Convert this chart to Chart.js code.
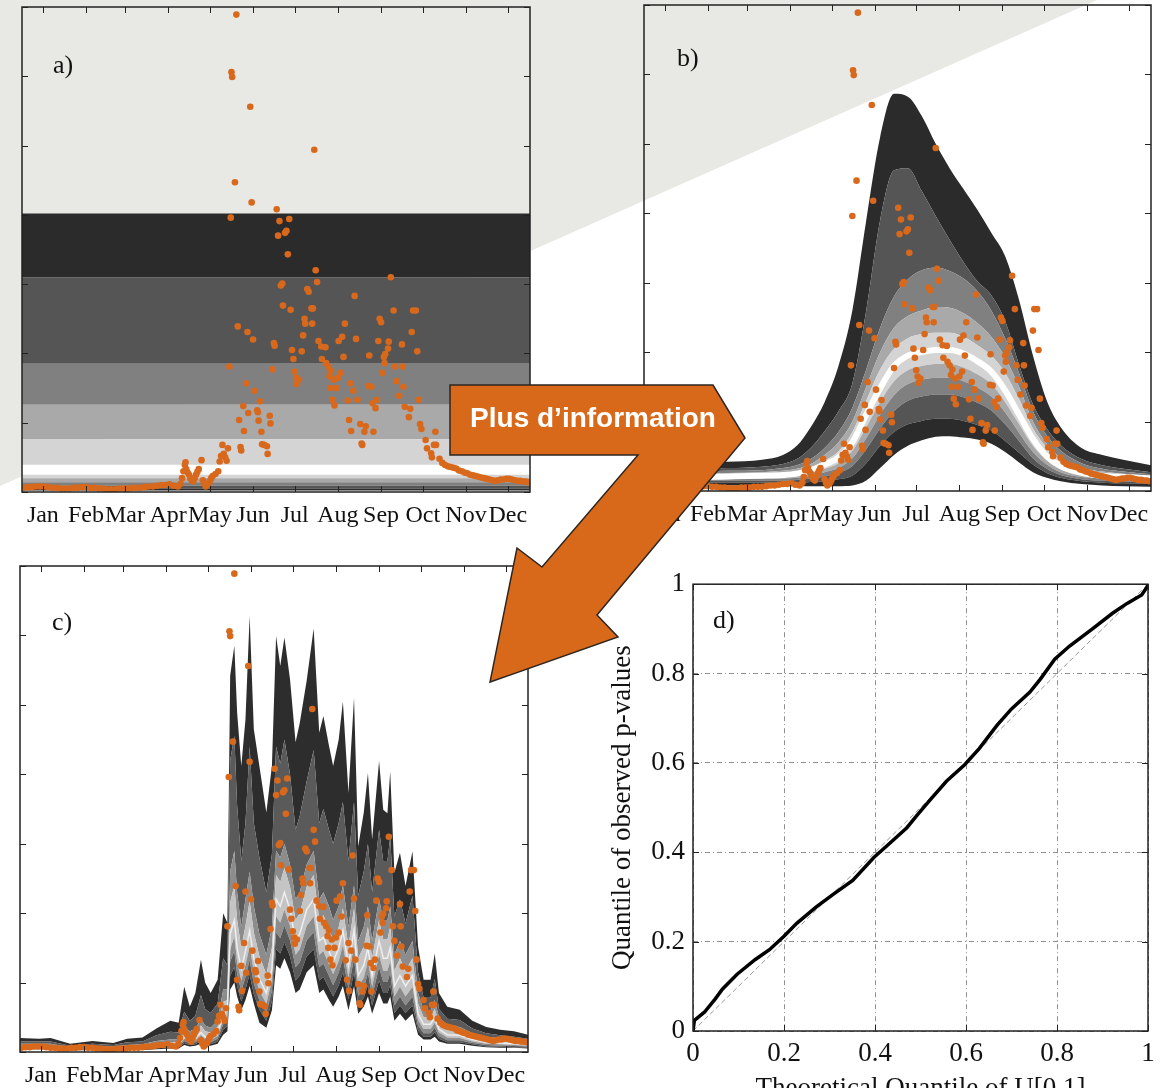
<!DOCTYPE html>
<html>
<head>
<meta charset="utf-8">
<script src="https://cdn.jsdelivr.net/npm/chart.js@4.4.0/dist/chart.umd.min.js"></script>
<style>
  html, body { margin: 0; padding: 0; width: 1167px; height: 1088px; overflow: hidden; background: #fff; }
  #bg { position: absolute; left: 0; top: 0; width: 1167px; height: 1088px; background: #e8e9e4;
        clip-path: polygon(0 0, 1097px 0, 0 486px); }
  canvas { position: absolute; }
  #overlay { position: absolute; left: 0; top: 0; }
  .lbl { font-family: 'Liberation Serif', 'Times New Roman', serif; font-size: 26px; fill: #111; }
  .arrowText { font-family: 'Liberation Sans', Arial, sans-serif; font-weight: bold; font-size: 28px; fill: #fff; }
</style>
</head>
<body>
<div id="bg"></div>
<canvas id="chartA" width="545" height="540" style="left:0;top:0"></canvas>
<canvas id="chartB" width="567" height="540" style="left:600px;top:0"></canvas>
<canvas id="chartC" width="545" height="543" style="left:0;top:545px"></canvas>
<canvas id="chartD" width="567" height="560" style="left:600px;top:560px"></canvas>
<svg id="overlay" width="1167" height="1088">
  <text class="lbl" x="53" y="73">a)</text>
  <text class="lbl" x="677" y="66">b)</text>
  <text class="lbl" x="52" y="630">c)</text>
  <text class="lbl" x="713" y="628">d)</text>
  <polygon points="450,385 713,385 745,438 597,615 618,637 490,682 517,548 542,567 638,455 450,455"
           fill="#d9691a" stroke="#2e2620" stroke-width="1.5" stroke-linejoin="miter"/>
  <text class="arrowText" x="593" y="427" text-anchor="middle">Plus d’information</text>
</svg>
<script>
// month axis
const monthTicks = [15, 46, 74, 105, 135, 166, 196, 227, 258, 288, 319, 349];
const monthLabels = ['Jan', 'Feb', 'Mar', 'Apr', 'May', 'Jun', 'Jul', 'Aug', 'Sep', 'Oct', 'Nov', 'Dec'];

// observed daily values (day of year, value)
const obsDay = [
  1, 4, 7, 10, 13, 16, 19, 22, 25, 28, 31, 34, 37, 40, 43, 46, 49, 52, 55, 58,
  61, 64, 67, 70, 73, 76, 79, 82, 85, 88, 91, 94, 97, 100, 103, 106, 109, 112,
  114, 115, 116, 117, 117.5, 118, 119, 120, 121, 122, 123, 124, 125, 126, 127, 129, 130,
  131, 132, 133, 134, 135, 136, 137, 139, 141, 142, 143, 144, 145, 146, 147, 148,
  149, 150, 150.5, 151, 153, 154, 155, 156, 157, 157.5, 159, 159.5, 161, 162, 162.5, 164, 165,
  166, 167, 169, 169.5, 170, 171, 172, 172.5, 174, 176, 176.5, 178, 178.5, 180, 181, 181.5,
  183, 184, 185, 186, 187, 187.5, 189, 190, 191, 192, 193, 194, 195, 196, 197, 197.5, 199,
  201, 202, 203, 203.5, 205, 206, 208, 208.5, 209, 210, 211, 212, 213, 215, 215.5, 218, 218.5,
  220, 221, 221.5, 222, 223, 224, 224.5, 226, 227, 227.5, 229, 230, 231, 232, 234, 235, 236,
  236.5, 238, 239, 240, 241, 243, 244, 244.5, 246, 247, 249, 249.5, 251, 252, 252.5, 254,
  255, 256, 257, 258, 259, 260, 260.5, 261, 263, 263.5, 265, 267, 268, 269, 271, 273, 273.5,
  274, 275, 278, 279, 280, 281, 283, 284, 285, 286, 287, 290, 291, 294, 294.5, 296, 297, 297.5,
  300, 302, 304, 306, 308, 310, 312, 314, 316, 318, 320, 322, 324, 326, 328, 330, 332, 334,
  336, 338, 340, 342, 344, 346, 348, 350, 352, 354, 356, 358, 360, 362, 364
];
const obsVal = [
  0.06, 0.07, 0.07, 0.08, 0.08, 0.08, 0.07, 0.06, 0.06, 0.05, 0.05, 0.05, 0.06, 0.06, 0.07, 0.07, 0.06, 0.06, 0.05, 0.05,
  0.04, 0.04, 0.04, 0.05, 0.05, 0.05, 0.06, 0.06, 0.06, 0.07, 0.08, 0.08, 0.09, 0.10, 0.10, 0.11, 0.09, 0.08,
  0.12, 0.20, 0.30, 0.39, 0.43, 0.33, 0.28, 0.25, 0.20, 0.17, 0.15, 0.20, 0.25, 0.29, 0.33, 0.46, 0.17,
  0.12, 0.08, 0.10, 0.12, 0.16, 0.20, 0.23, 0.26, 0.30, 0.44, 0.52, 0.68, 0.55, 0.50, 0.45, 0.63,
  1.81, 3.96, 6.06, 5.99, 4.47, 6.89, 2.39, 1.04, 0.65, 0.60, 1.24, 0.88, 1.57, 2.31, 1.14, 5.56, 4.18,
  2.20, 1.46, 1.18, 1.15, 1.03, 1.31, 0.87, 0.69, 0.68, 0.66, 0.55, 1.10, 0.99, 1.77, 2.15, 2.11,
  4.08, 3.70, 3.91, 2.98, 3.01, 2.69, 3.74, 3.77, 3.43, 3.94, 2.63, 2.05, 1.92, 1.74, 1.65, 1.56, 1.62,
  2.03, 2.26, 2.50, 2.43, 2.93, 2.89, 2.65, 2.43, 2.65, 4.94, 3.20, 3.03, 2.18, 2.10, 1.92, 2.09, 1.86,
  1.81, 1.67, 1.50, 1.75, 1.33, 1.62, 1.25, 1.50, 1.65, 2.18, 1.72, 2.24, 1.95, 2.43, 1.32, 1.04, 1.57,
  0.88, 1.46, 2.83, 2.21, 1.33, 0.98, 0.70, 0.68, 0.87, 0.95, 1.53, 1.97, 1.52, 1.28, 0.87, 1.21,
  1.33, 2.18, 2.50, 2.45, 1.72, 1.95, 1.86, 1.99, 2.07, 2.17, 3.10, 2.62, 1.81, 1.60, 1.39, 2.13, 1.81,
  1.52, 1.23, 1.08, 1.20, 2.31, 2.62, 2.62, 2.03, 1.33, 0.98, 0.91, 0.75, 0.63, 0.56, 0.50, 0.68, 0.87, 0.68,
  0.48, 0.42, 0.39, 0.37, 0.36, 0.35, 0.34, 0.31, 0.30, 0.28, 0.27, 0.25, 0.24, 0.23, 0.22, 0.21, 0.20, 0.19,
  0.18, 0.17, 0.16, 0.17, 0.18, 0.18, 0.19, 0.19, 0.18, 0.17, 0.16, 0.16, 0.15, 0.15, 0.14
];

// a) climatological quantile levels, bottom to top (constant over the year)
const dayA = [0, 365];
const levelsA = [0.02, 0.05, 0.09, 0.14, 0.20, 0.32, 0.76, 1.26, 1.85, 3.10, 4.02];

// b) seasonal quantile curves
const dayB = [0, 30, 60, 85, 100, 110, 120, 130, 140, 150, 160, 170, 180, 190, 200, 210, 220, 230, 240, 250, 260, 270, 280, 290, 300, 315, 330, 345, 365];
const bL1 = [0.08, 0.08, 0.08, 0.08, 0.08, 0.07, 0.07, 0.07, 0.07, 0.08, 0.15, 0.33, 0.52, 0.65, 0.73, 0.78, 0.79, 0.77, 0.74, 0.68, 0.56, 0.41, 0.27, 0.19, 0.14, 0.10, 0.08, 0.07, 0.06];
const bL2 = [0.12, 0.12, 0.12, 0.12, 0.12, 0.12, 0.13, 0.14, 0.17, 0.22, 0.40, 0.65, 0.85, 0.96, 1.01, 1.04, 1.04, 1.01, 0.95, 0.87, 0.72, 0.55, 0.38, 0.26, 0.19, 0.14, 0.12, 0.11, 0.10];
const bL3 = [0.14, 0.14, 0.15, 0.15, 0.15, 0.16, 0.18, 0.21, 0.26, 0.36, 0.60, 0.90, 1.15, 1.30, 1.36, 1.39, 1.39, 1.35, 1.27, 1.16, 0.96, 0.72, 0.47, 0.32, 0.23, 0.17, 0.15, 0.14, 0.12];
const bL4 = [0.16, 0.16, 0.17, 0.18, 0.18, 0.19, 0.22, 0.27, 0.33, 0.47, 0.76, 1.10, 1.38, 1.54, 1.60, 1.63, 1.63, 1.58, 1.49, 1.36, 1.13, 0.84, 0.56, 0.38, 0.27, 0.20, 0.18, 0.16, 0.14];
const bL5 = [0.18, 0.18, 0.19, 0.20, 0.21, 0.22, 0.26, 0.32, 0.40, 0.58, 0.92, 1.28, 1.58, 1.74, 1.80, 1.83, 1.83, 1.78, 1.68, 1.54, 1.28, 0.96, 0.65, 0.44, 0.31, 0.23, 0.20, 0.18, 0.16];
const bMed = [0.20, 0.20, 0.21, 0.22, 0.23, 0.25, 0.30, 0.38, 0.48, 0.70, 1.10, 1.48, 1.80, 1.95, 2.00, 2.03, 2.03, 1.98, 1.87, 1.72, 1.45, 1.10, 0.75, 0.50, 0.36, 0.26, 0.22, 0.20, 0.18];
const bU5 = [0.22, 0.22, 0.23, 0.24, 0.26, 0.28, 0.34, 0.44, 0.57, 0.85, 1.30, 1.75, 2.05, 2.20, 2.26, 2.28, 2.28, 2.22, 2.10, 1.95, 1.70, 1.32, 0.90, 0.62, 0.44, 0.30, 0.25, 0.22, 0.20];
const bU4 = [0.25, 0.25, 0.26, 0.27, 0.29, 0.32, 0.39, 0.52, 0.70, 1.00, 1.50, 2.00, 2.35, 2.52, 2.60, 2.65, 2.64, 2.56, 2.42, 2.22, 1.92, 1.50, 1.00, 0.68, 0.48, 0.34, 0.28, 0.25, 0.22];
const bU3 = [0.28, 0.28, 0.29, 0.30, 0.33, 0.37, 0.46, 0.62, 0.85, 1.20, 1.75, 2.35, 2.80, 3.05, 3.18, 3.22, 3.17, 3.06, 2.88, 2.60, 2.20, 1.70, 1.15, 0.80, 0.58, 0.40, 0.32, 0.28, 0.24];
const bU2 = [0.32, 0.32, 0.33, 0.35, 0.39, 0.46, 0.62, 0.86, 1.15, 1.55, 2.60, 3.90, 4.62, 4.65, 4.32, 3.96, 3.62, 3.30, 3.02, 2.82, 2.45, 1.82, 1.25, 0.90, 0.66, 0.46, 0.37, 0.32, 0.27];
const bU1 = [0.40, 0.40, 0.42, 0.45, 0.52, 0.65, 0.92, 1.28, 1.80, 2.60, 3.90, 5.10, 5.72, 5.68, 5.40, 5.00, 4.65, 4.35, 4.05, 3.72, 3.38, 2.75, 1.95, 1.30, 0.92, 0.62, 0.52, 0.45, 0.37];

// c) daily quantile curves
const dayC = [0, 14, 22, 36, 52, 67, 77, 88, 98, 108, 114, 118, 122, 126, 130, 133, 137, 142, 146, 149,
  151, 154, 156, 159, 162, 165, 168, 172, 177, 181, 184, 187, 190, 194, 198, 201, 206, 211, 215, 218,
  222, 225, 229, 232, 236, 240, 243, 247, 250, 253, 258, 261, 264, 266, 269, 273, 277, 282, 286, 290,
  295, 298, 301, 307, 316, 325, 335, 345, 355, 365];
const cL1 = [0.04, 0.04, 0.04, 0.02, 0.03, 0.02, 0.03, 0.03, 0.04, 0.05, 0.05, 0.10, 0.08, 0.09, 0.12, 0.10, 0.09, 0.12, 0.25, 0.30,
  0.90, 1.00, 0.80, 0.60, 0.75, 0.95, 0.70, 0.42, 0.35, 0.60, 1.25, 1.20, 1.35, 1.15, 0.85, 0.90, 1.15, 1.25, 0.85, 0.90,
  0.75, 0.65, 0.80, 0.95, 0.60, 0.95, 0.55, 0.65, 0.80, 0.55, 0.85, 0.70, 0.70, 0.80, 0.45, 0.55, 0.45, 0.55, 0.25, 0.18,
  0.18, 0.22, 0.15, 0.12, 0.12, 0.09, 0.07, 0.06, 0.06, 0.05];
const cL2 = [0.055, 0.055, 0.055, 0.03, 0.04, 0.03, 0.04, 0.04, 0.055, 0.065, 0.065, 0.13, 0.10, 0.11, 0.16, 0.13, 0.11, 0.15, 0.32, 0.37,
  1.10, 1.22, 0.95, 0.73, 0.90, 1.12, 0.83, 0.61, 0.45, 0.73, 1.48, 1.42, 1.58, 1.38, 1.03, 1.10, 1.38, 1.48, 1.03, 1.08,
  0.92, 0.80, 0.96, 1.15, 0.76, 1.15, 0.67, 0.78, 0.96, 0.67, 1.03, 0.85, 0.85, 0.96, 0.56, 0.67, 0.56, 0.67, 0.31, 0.22,
  0.22, 0.28, 0.19, 0.14, 0.14, 0.11, 0.08, 0.075, 0.07, 0.065];
const cL3 = [0.07, 0.07, 0.07, 0.04, 0.05, 0.04, 0.05, 0.05, 0.07, 0.08, 0.08, 0.16, 0.13, 0.14, 0.20, 0.16, 0.14, 0.19, 0.40, 0.45,
  1.30, 1.45, 1.12, 0.88, 1.08, 1.32, 0.99, 0.74, 0.57, 0.88, 1.72, 1.64, 1.82, 1.61, 1.22, 1.29, 1.61, 1.72, 1.22, 1.27,
  1.10, 0.96, 1.14, 1.35, 0.92, 1.35, 0.80, 0.92, 1.14, 0.80, 1.22, 1.01, 1.01, 1.14, 0.67, 0.80, 0.67, 0.80, 0.38, 0.27,
  0.27, 0.35, 0.23, 0.17, 0.17, 0.13, 0.10, 0.09, 0.085, 0.08];
const cL4 = [0.08, 0.08, 0.08, 0.045, 0.055, 0.045, 0.06, 0.06, 0.08, 0.09, 0.09, 0.19, 0.15, 0.17, 0.24, 0.19, 0.17, 0.23, 0.47, 0.52,
  1.48, 1.66, 1.30, 1.03, 1.25, 1.52, 1.16, 0.88, 0.70, 1.03, 1.95, 1.86, 2.05, 1.82, 1.40, 1.48, 1.82, 1.95, 1.40, 1.45,
  1.26, 1.12, 1.31, 1.54, 1.07, 1.54, 0.94, 1.07, 1.31, 0.94, 1.40, 1.17, 1.17, 1.31, 0.80, 0.94, 0.80, 0.94, 0.46, 0.33,
  0.33, 0.42, 0.28, 0.21, 0.20, 0.15, 0.12, 0.11, 0.10, 0.09];
const cMed = [0.09, 0.09, 0.09, 0.05, 0.06, 0.05, 0.07, 0.07, 0.09, 0.10, 0.10, 0.22, 0.18, 0.20, 0.28, 0.22, 0.20, 0.27, 0.55, 0.60,
  1.70, 1.90, 1.50, 1.20, 1.45, 1.75, 1.35, 1.05, 0.85, 1.20, 2.20, 2.10, 2.30, 2.05, 1.60, 1.70, 2.05, 2.20, 1.60, 1.65,
  1.45, 1.30, 1.50, 1.75, 1.25, 1.75, 1.10, 1.25, 1.50, 1.10, 1.60, 1.35, 1.35, 1.50, 0.95, 1.10, 0.95, 1.10, 0.55, 0.40,
  0.40, 0.50, 0.33, 0.25, 0.24, 0.18, 0.14, 0.13, 0.12, 0.11];
const cU4 = [0.10, 0.10, 0.10, 0.06, 0.07, 0.06, 0.08, 0.09, 0.12, 0.14, 0.14, 0.29, 0.24, 0.26, 0.38, 0.30, 0.28, 0.36, 0.72, 0.75,
  2.15, 2.40, 1.90, 1.50, 1.82, 2.17, 1.72, 1.38, 1.12, 1.50, 2.55, 2.45, 2.65, 2.38, 1.90, 2.00, 2.38, 2.55, 1.90, 1.97,
  1.78, 1.60, 1.80, 2.07, 1.52, 2.07, 1.35, 1.52, 1.80, 1.35, 1.90, 1.62, 1.62, 1.80, 1.17, 1.35, 1.17, 1.35, 0.70, 0.50,
  0.50, 0.62, 0.42, 0.31, 0.30, 0.22, 0.18, 0.16, 0.15, 0.13];
const cU3 = [0.12, 0.12, 0.12, 0.07, 0.09, 0.08, 0.10, 0.11, 0.16, 0.18, 0.18, 0.36, 0.30, 0.33, 0.48, 0.38, 0.35, 0.45, 0.90, 0.90,
  2.60, 2.90, 2.30, 1.80, 2.20, 2.60, 2.10, 1.70, 1.40, 1.80, 2.90, 2.80, 3.00, 2.70, 2.20, 2.30, 2.70, 2.90, 2.20, 2.30,
  2.10, 1.90, 2.10, 2.40, 1.80, 2.40, 1.60, 1.80, 2.10, 1.60, 2.20, 1.90, 1.90, 2.10, 1.40, 1.60, 1.40, 1.60, 0.85, 0.60,
  0.60, 0.75, 0.50, 0.38, 0.36, 0.27, 0.22, 0.20, 0.18, 0.16];
const cU2 = [0.15, 0.15, 0.15, 0.09, 0.12, 0.10, 0.14, 0.15, 0.24, 0.29, 0.28, 0.58, 0.45, 0.52, 0.82, 0.62, 0.56, 0.70, 1.35, 1.25,
  4.20, 4.55, 3.55, 2.75, 3.30, 4.40, 3.30, 2.80, 2.30, 2.85, 4.40, 4.15, 4.50, 4.00, 3.20, 3.40, 3.90, 4.35, 3.30, 3.50,
  3.20, 3.00, 3.30, 3.60, 2.75, 3.60, 2.25, 2.60, 3.00, 2.30, 3.20, 2.75, 2.75, 3.10, 1.95, 2.20, 1.85, 2.25, 1.15, 0.78,
  0.78, 1.05, 0.62, 0.48, 0.46, 0.34, 0.27, 0.24, 0.22, 0.19];
const cU1 = [0.20, 0.19, 0.20, 0.12, 0.16, 0.13, 0.19, 0.21, 0.34, 0.45, 0.42, 0.94, 0.65, 0.85, 1.33, 1.00, 0.85, 1.04, 2.00, 1.86,
  5.42, 5.85, 4.89, 4.12, 4.79, 6.28, 4.65, 4.12, 3.45, 4.12, 5.99, 5.56, 5.97, 5.37, 4.46, 4.74, 5.35, 6.10, 4.60, 4.84,
  4.41, 4.12, 4.50, 5.05, 3.73, 5.10, 2.96, 3.45, 4.02, 3.06, 4.19, 3.49, 3.44, 4.04, 2.58, 2.87, 2.39, 2.89, 1.52, 1.04,
  1.04, 1.42, 0.85, 0.65, 0.61, 0.45, 0.36, 0.32, 0.30, 0.25];

// d) QQ plot of p-values
const qqTheo = [0, 0.003, 0.025, 0.049, 0.065, 0.097, 0.137, 0.168, 0.2, 0.228, 0.271, 0.311, 0.351, 0.398, 0.43, 0.47, 0.494,
  0.525, 0.557, 0.597, 0.629, 0.668, 0.7, 0.74, 0.763, 0.795, 0.827, 0.875, 0.922, 0.954, 0.986, 0.998, 1];
const qqObs = [0, 0.024, 0.042, 0.072, 0.094, 0.127, 0.16, 0.182, 0.212, 0.241, 0.278, 0.308, 0.337, 0.389, 0.418, 0.455, 0.485,
  0.522, 0.559, 0.596, 0.632, 0.684, 0.721, 0.758, 0.787, 0.832, 0.861, 0.898, 0.935, 0.957, 0.976, 0.994, 1];
const diagX = [0, 1];

const fills11 = ['#2b2b2b', '#555555', '#808080', '#a9a9a9', '#d4d4d4', '#d4d4d4', '#a9a9a9', '#808080', '#555555', '#2b2b2b'];
const fills9 = ['#2d2d2d', '#5a5a5a', '#8c8c8c', '#c4c4c4', '#c4c4c4', '#8c8c8c', '#5a5a5a', '#2d2d2d'];
const obsColor = '#d8691c';

Chart.defaults.font.family = "'Liberation Serif', 'Times New Roman', serif";
Chart.defaults.color = '#111';

const xy = (xs, ys) => ys.map((y, i) => ({ x: xs[i], y: y }));

// box with inward tick marks, like the original figure
const framePlugin = {
  id: 'frame',
  afterDraw(chart) {
    const { ctx, chartArea: a, scales } = chart;
    ctx.save();
    ctx.strokeStyle = '#222';
    ctx.lineWidth = 1;
    ctx.beginPath();
    scales.x.ticks.forEach(t => {
      const p = Math.round(scales.x.getPixelForValue(t.value)) + 0.5;
      ctx.moveTo(p, a.bottom); ctx.lineTo(p, a.bottom - 6);
      ctx.moveTo(p, a.top); ctx.lineTo(p, a.top + 6);
    });
    scales.y.ticks.forEach(t => {
      const p = Math.round(scales.y.getPixelForValue(t.value)) + 0.5;
      ctx.moveTo(a.left, p); ctx.lineTo(a.left + 6, p);
      ctx.moveTo(a.right, p); ctx.lineTo(a.right - 6, p);
    });
    ctx.stroke();
    ctx.lineWidth = 1.5;
    ctx.strokeRect(a.left, a.top, a.right - a.left, a.bottom - a.top);
    ctx.restore();
  }
};

function bandSets(xs, curves, fills, smooth) {
  return curves.map((vals, i) => ({
    data: xy(xs, vals),
    fill: i === 0 ? false : '-1',
    backgroundColor: i === 0 ? 'rgba(0,0,0,0)' : fills[i - 1],
    borderColor: 'rgba(0,0,0,0)',
    borderWidth: 0,
    pointRadius: 0,
    tension: smooth ? 0.4 : 0,
    cubicInterpolationMode: smooth ? 'monotone' : 'default',
    order: 3
  }));
}

function monthAxis(h) {
  return {
    type: 'linear', min: 0, max: 365,
    grid: { display: false, drawTicks: false },
    border: { display: false },
    afterBuildTicks: s => { s.ticks = monthTicks.map(v => ({ value: v })); },
    afterFit: s => { s.height = h; },
    ticks: { autoSkip: false, maxRotation: 0, minRotation: 0, padding: 9, font: { size: 24 },
             callback: (v, i) => monthLabels[i] }
  };
}

function hydroChart(id, pad, xh, xs, curves, fills, smooth, medXs, med, medW, medColor) {
  const bands = bandSets(xs, curves, fills, smooth);
  return new Chart(document.getElementById(id), {
    type: 'line',
    data: {
      datasets: [
        ...bands,
        { data: xy(medXs, med), borderColor: medColor, borderWidth: medW, pointRadius: 0, fill: false,
          tension: smooth ? 0.4 : 0, cubicInterpolationMode: smooth ? 'monotone' : 'default', order: 2 },
        { data: xy(obsDay, obsVal), showLine: false, pointRadius: 3.3, pointBorderWidth: 0,
          pointBackgroundColor: obsColor, order: 0 }
      ]
    },
    options: {
      responsive: false,
      animation: false,
      events: [],
      layout: { padding: pad },
      plugins: { legend: { display: false }, tooltip: { enabled: false } },
      scales: {
        x: monthAxis(xh),
        y: { type: 'linear', display: false, min: 0, max: 7, ticks: { stepSize: 1 } }
      }
    },
    plugins: [framePlugin]
  });
}

// a)
const curvesA = levelsA.map(l => dayA.map(() => l));
hydroChart('chartA', { left: 22, right: 15, top: 7, bottom: 0 }, 48, dayA, curvesA, fills11, false,
  dayA, dayA.map(() => levelsA[5]), 10, '#ffffff');

// b)
hydroChart('chartB', { left: 44, right: 16, top: 5, bottom: 0 }, 49, dayB,
  [bL1, bL2, bL3, bL4, bL5, bMed, bU5, bU4, bU3, bU2, bU1], fills11, true, dayB, bMed, 6, '#ffffff');

// c)
hydroChart('chartC', { left: 20, right: 17, top: 21, bottom: 0 }, 36, dayC,
  [cL1, cL2, cL3, cL4, cMed, cU4, cU3, cU2, cU1], fills9, false, dayC, cMed, 1.5, '#eeeeee');

// d)
const fmt = v => String(Number(v.toFixed(1)));
new Chart(document.getElementById('chartD'), {
  type: 'line',
  data: {
    datasets: [
      { data: xy(qqTheo, qqObs), borderColor: '#000', borderWidth: 3.5, pointRadius: 0, fill: false, order: 0 },
      { data: xy(diagX, diagX), borderColor: '#999', borderWidth: 1, borderDash: [5, 3], pointRadius: 0, fill: false, order: 1 }
    ]
  },
  options: {
    responsive: false,
    animation: false,
    events: [],
    layout: { padding: { left: 0, right: 19, top: 14, bottom: 0 } },
    plugins: { legend: { display: false }, tooltip: { enabled: false } },
    scales: {
      x: {
        type: 'linear', min: 0, max: 1,
        ticks: { stepSize: 0.2, padding: 7, font: { size: 27 }, callback: fmt },
        grid: { color: '#8f8f8f', drawTicks: false },
        border: { display: false, dash: [5, 3, 1, 3] },
        title: { display: true, text: 'Theoretical Quantile of U[0,1]', font: { size: 27 }, padding: { top: 0, bottom: 15 } },
        afterFit: s => { s.height = 89; }
      },
      y: {
        type: 'linear', min: 0, max: 1,
        ticks: { stepSize: 0.2, padding: 8, font: { size: 27 }, callback: fmt },
        grid: { color: '#8f8f8f', drawTicks: false },
        border: { display: false, dash: [5, 3, 1, 3] },
        title: { display: true, text: 'Quantile of observed p-values', font: { size: 27 }, padding: { top: 7, bottom: 0 } },
        afterFit: s => { s.width = 93; }
      }
    }
  },
  plugins: [framePlugin]
});
</script>
</body>
</html>
